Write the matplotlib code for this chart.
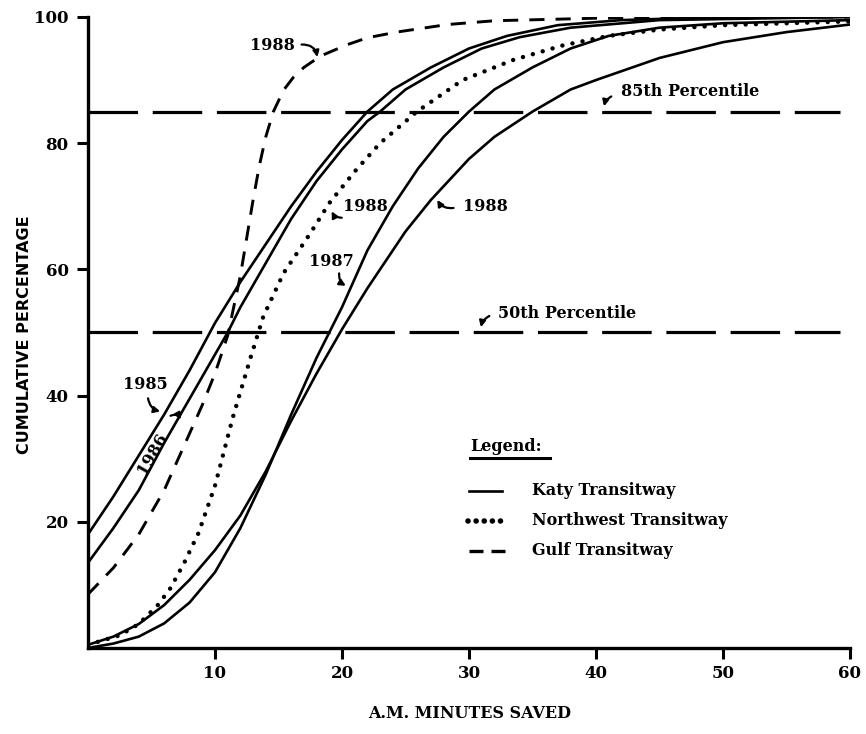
import matplotlib
matplotlib.use("Agg")
import matplotlib.pyplot as plt

# values (minutes saved, cumulative %)
katy85_x = [0, 2, 4, 6, 8, 10, 12, 14, 16, 18, 20, 22, 24, 27, 30, 33, 37, 42, 50, 60]
katy85_y = [18, 24, 30.5, 37, 44, 51.5, 58, 64, 70, 75.5, 80.5, 85, 88.5, 92, 95, 97, 98.7, 99.5, 100, 100]

katy86_x = [0, 2, 4, 6, 8, 10, 11, 12, 14, 16, 18, 20, 22, 23, 25, 28, 31, 34, 38, 45, 60]
katy86_y = [13.5, 19, 25, 32.5, 39.5, 46.5, 50, 54, 61, 68, 74, 79, 83.5, 85, 88.5, 92, 95, 96.8, 98.3, 99.5, 100]

katy87_x = [0, 2, 4, 6, 8, 10, 12, 14, 16, 18, 19, 20, 22, 24, 26, 28, 30, 32, 35, 38, 41, 45, 50, 60]
katy87_y = [0, 0.7, 1.8, 3.9, 7.2, 12, 19, 27.5, 37, 46, 50, 54, 63, 70, 76, 81, 85, 88.5, 92, 95, 97, 98.3, 99, 99.5]

katy88_x = [0, 2, 4, 6, 8, 10, 12, 14, 16, 18, 20, 22, 25, 27, 30, 32, 35, 38, 40, 45, 50, 55, 60]
katy88_y = [0.5, 1.8, 3.8, 6.8, 10.8, 15.5, 21, 28, 36, 43.5, 50.5, 57, 66, 71, 77.5, 81, 85, 88.5, 90, 93.5, 96, 97.6, 98.8]

nw88_x = [0, 2.5, 4, 5.5, 6.5, 7.6, 8.7, 10, 11.4, 12.8, 13.8, 15.4, 17.5, 19, 21, 23, 25.9, 29.5, 33.5, 37.4, 41, 45, 50, 60]
nw88_y = [0.5, 2, 3.8, 6.8, 9.5, 13.6, 18.2, 25.7, 36.5, 46, 52.5, 59.4, 65.7, 70.5, 75.5, 80, 85, 90, 93.2, 95.5, 97, 98, 98.7, 99.3]

gulf88_x = [0, 2, 4, 6, 7, 8, 9, 10, 11, 12, 12.5, 13, 13.5, 14, 14.6, 15.4, 16.2, 17, 18.3, 20.4, 22, 24.3, 28.3, 32, 40, 60]
gulf88_y = [8.5, 12.7, 18, 25, 29.5, 34, 38.5, 43.5, 49.5, 59, 65, 71, 76.5, 81, 85, 88.4, 90.5, 92, 93.8, 95.6, 96.7, 97.6, 98.8, 99.4, 99.8, 100]

percentiles = [85, 50]
x_ticks = [10, 20, 30, 40, 50, 60]
y_ticks = [20, 40, 60, 80, 100]

serif = "DejaVu Serif"

fig = plt.figure(figsize=(8.66, 7.34), dpi=100)
ax = fig.add_axes([0.1016, 0.1172, 0.8799, 0.8597])

for p in percentiles:
    ax.plot([0, 59.2], [p, p], color="black", lw=2.3, linestyle=(0, (15.5, 4.6)), solid_capstyle="butt")

solid_kw = dict(color="black", lw=1.9)
ax.plot(katy85_x, katy85_y, **solid_kw)
ax.plot(katy86_x, katy86_y, **solid_kw)
ax.plot(katy87_x, katy87_y, **solid_kw)
ax.plot(katy88_x, katy88_y, **solid_kw)
ax.plot(nw88_x, nw88_y, color="black", lw=3.2, linestyle=(0, (0.01, 2.3)), dash_capstyle="round")
ax.plot(gulf88_x, gulf88_y, color="black", lw=2.1, linestyle=(0, (5.2, 3.8)))

ax.set_xlim(0, 60)
ax.set_ylim(0, 100)
ax.set_xticks(x_ticks)
ax.set_yticks(y_ticks)
for s in ["top", "right"]:
    ax.spines[s].set_visible(False)
for s in ["left", "bottom"]:
    ax.spines[s].set_linewidth(2.4)
ax.tick_params(axis="both", direction="out", length=8, width=2.2, labelsize=12)
ax.tick_params(axis="y", pad=6)
ax.tick_params(axis="x", pad=4)
for lab in ax.get_xticklabels() + ax.get_yticklabels():
    lab.set_fontfamily(serif)
    lab.set_fontweight("bold")

ax.set_ylabel("CUMULATIVE PERCENTAGE", fontsize=11.5, fontweight="bold", family="DejaVu Sans")
ax.yaxis.set_label_coords(-0.074, 0.496)
ax.set_xlabel("A.M. MINUTES SAVED", fontsize=11.5, fontweight="bold", family=serif)
ax.xaxis.set_label_coords(0.501, -0.09)

txt = dict(fontsize=11.5, fontweight="bold", family=serif)
arr = dict(arrowstyle="-|>", color="black", lw=1.6, mutation_scale=9)


def note(text, xy, xytext, rad, **kw):
    ax.annotate("", xy=xy, xytext=xytext,
                arrowprops=dict(connectionstyle=f"arc3,rad={rad}", **arr))
    ax.text(*kw.pop("pos"), text, **txt, **kw)


note("1988", (18.1, 93.2), (16.6, 95.6), -0.5, pos=(14.5, 95.5), ha="center", va="center")
note("85th Percentile", (40.6, 85.4), (41.4, 87.6), 0.3, pos=(42.0, 88.2), ha="left", va="center")
note("50th Percentile", (30.9, 50.4), (31.8, 52.8), 0.3, pos=(32.3, 53.0), ha="left", va="center")
note("1988", (19.1, 69.6), (20.2, 68.2), -0.4, pos=(20.1, 69.9), ha="left", va="center")
note("1988", (27.4, 71.4), (29.0, 69.8), -0.4, pos=(29.5, 69.9), ha="left", va="center")
note("1987", (20.5, 57.2), (19.8, 59.8), 0.4, pos=(19.2, 61.3), ha="center", va="center")
note("1985", (5.9, 37.4), (4.7, 40.0), 0.4, pos=(4.5, 41.8), ha="center", va="center")
note("1986", (7.4, 35.8), (6.3, 36.6), -0.6, pos=(5.1, 30.9), ha="center", va="center", rotation=60)

# legend drawn by hand like the original
ax.text(30.1, 31.9, "Legend:", ha="left", va="center", **txt)
ax.plot([30.1, 36.4], [30.1, 30.1], color="black", lw=2.2, clip_on=False)
legend_rows = [("Katy Transitway", 24.9), ("Northwest Transitway", 20.2), ("Gulf Transitway", 15.4)]
ax.plot([30.0, 32.6], [legend_rows[0][1]] * 2, **solid_kw)
ax.plot([29.9, 33.0], [legend_rows[1][1]] * 2, color="black", lw=4.0, linestyle=(0, (0.01, 1.45)), dash_capstyle="round")
ax.plot([30.0, 32.8], [legend_rows[2][1]] * 2, color="black", lw=2.4, linestyle=(0, (4.2, 2.4)))
for label, yy in legend_rows:
    ax.text(35.0, yy, label, ha="left", va="center", **txt)

fig.savefig("out.png", dpi=100)
